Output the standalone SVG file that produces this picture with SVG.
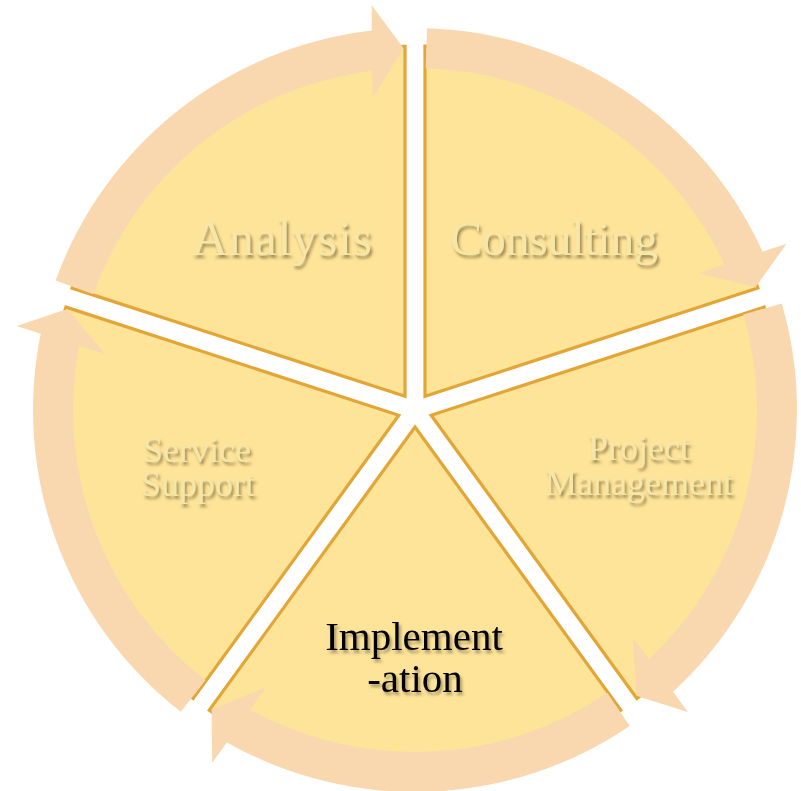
<svg xmlns="http://www.w3.org/2000/svg" width="801" height="791" viewBox="0 0 801 791">
  <style>
    .seg { fill: #FEE499; stroke: #E3A535; stroke-width: 3.2; stroke-linejoin: miter; }
    .arrow { fill: #F9D7AF; stroke: none; }
    .emb { font-family: "Liberation Serif", "Times New Roman", serif; fill: #F6E6A8; filter: url(#emboss); text-anchor: middle; }
    .dark { font-family: "Liberation Serif", "Times New Roman", serif; fill: #000000; filter: url(#shadow); text-anchor: middle; }
  </style>
  <defs>
    <path id="segShape" d="M 405 396.25 L 72.1 288.1 A 350 350 0 0 1 405 46.25 Z"/>
    <path id="arrowShape" d="M 55.6 280.6 A 382 382 0 0 1 371.8 30.5 L 371.7 5.3 L 403.6 48.2 L 372.8 97.8 L 372.1 70.7 A 342 342 0 0 0 93.2 294.2 Z"/>
    <filter id="emboss" x="-10%" y="-20%" width="130%" height="160%">
      <feDropShadow dx="2" dy="3" stdDeviation="1.6" flood-color="#5a4820" flood-opacity="0.6"/>
    </filter>
    <filter id="shadow" x="-10%" y="-20%" width="130%" height="160%">
      <feDropShadow dx="2" dy="3" stdDeviation="1.6" flood-color="#000000" flood-opacity="0.35"/>
    </filter>
  </defs>
  <rect width="801" height="791" fill="#FFFFFF"/>

  <g id="node-analysis">
    <use href="#segShape" class="seg"/>
    <text class="emb" x="282" y="255" font-size="50" textLength="180" lengthAdjust="spacing">Analysis</text>
  </g>
  <g id="node-consulting">
    <use href="#segShape" class="seg" transform="rotate(72 415 410)"/>
    <text class="emb" x="554" y="255" font-size="48" textLength="208" lengthAdjust="spacing">Consulting</text>
  </g>
  <g id="node-project-management">
    <use href="#segShape" class="seg" transform="rotate(144 415 410)"/>
    <text class="emb" x="639" y="460" font-size="36">Project</text>
    <text class="emb" x="639" y="495" font-size="36">Management</text>
  </g>
  <g id="node-implementation">
    <use href="#segShape" class="seg" transform="rotate(216 415 410)"/>
    <text class="dark" x="414" y="650" font-size="41">Implement</text>
    <text class="dark" x="415" y="692" font-size="41">-ation</text>
  </g>
  <g id="node-service-support">
    <use href="#segShape" class="seg" transform="rotate(288 415 410)"/>
    <text class="emb" x="197" y="462" font-size="36">Service</text>
    <text class="emb" x="198" y="496" font-size="36">Support</text>
  </g>

  <g id="connectors">
    <use href="#arrowShape" class="arrow"/>
    <use href="#arrowShape" class="arrow" transform="rotate(72 415 410)"/>
    <use href="#arrowShape" class="arrow" transform="rotate(144 415 410)"/>
    <use href="#arrowShape" class="arrow" transform="rotate(216 415 410)"/>
    <use href="#arrowShape" class="arrow" transform="rotate(288 415 410)"/>
  </g>
</svg>
